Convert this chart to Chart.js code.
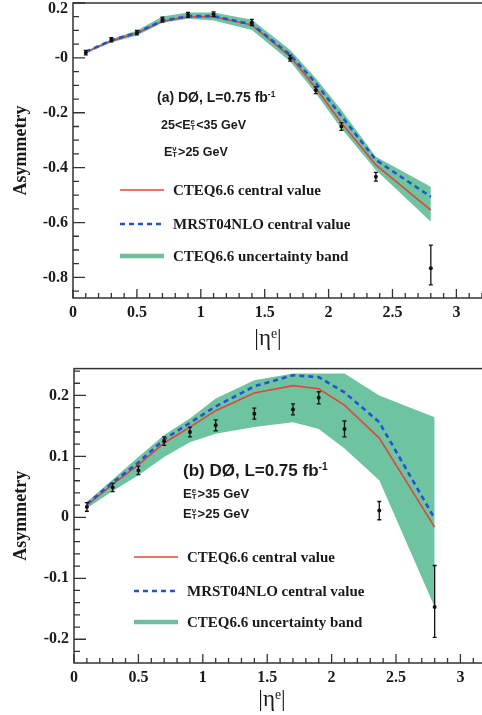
<!DOCTYPE html>
<html>
<head>
<meta charset="utf-8">
<script src="https://cdn.jsdelivr.net/npm/chart.js@4.4.0/dist/chart.umd.min.js"></script>
<style>
  html, body { margin: 0; padding: 0; background: #fff; width: 482px; height: 715px; overflow: hidden; position: relative; }
  canvas { position: absolute; left: 0; }
  #chartA { top: -10px; }
  #chartB { top: 358px; }
  .note { position: absolute; font-family: "Liberation Sans", Arial, sans-serif; font-weight: bold; color: #1a1a1a; white-space: nowrap; line-height: 1; }
  .note sup { font-size: 0.6em; position: relative; top: -0.55em; vertical-align: baseline; }
  .ss { display: inline-block; vertical-align: middle; font-size: 0.62em; line-height: 0.82; margin: 0 1px 0 0; position: relative; top: -0.05em; }
  .ss span { display: block; }
  .leg { position: absolute; display: flex; align-items: center; height: 16px; font-family: "Liberation Serif", "Times New Roman", serif; font-weight: bold; font-size: 15px; color: #1a1a1a; white-space: nowrap; }
  .leg svg { display: block; margin-right: 9px; }
  .xtitle { position: absolute; font-family: "Liberation Serif", "Times New Roman", serif; font-size: 23px; color: #1a1a1a; line-height: 1; transform: translate(-50%, -50%); white-space: nowrap; }
  .xtitle sup { font-size: 0.6em; position: relative; top: -0.5em; vertical-align: baseline; }
</style>
</head>
<body>
<canvas id="chartA" width="500" height="360"></canvas>
<canvas id="chartB" width="505" height="357"></canvas>

<!-- panel (a) texts -->
<div class="note" style="left:157px;top:90px;font-size:14px">(a) DØ, L=0.75 fb<sup>-1</sup></div>
<div class="note" style="left:161px;top:119px;font-size:12.5px">25&lt;E<span class="ss"><span>e</span><span>T</span></span>&lt;35 GeV</div>
<div class="note" style="left:164px;top:146px;font-size:12.5px">E<span class="ss"><span>ν</span><span>T</span></span>&gt;25 GeV</div>
<div class="leg" style="left:120px;top:182px"><svg width="44" height="16"><line x1="0" y1="8" x2="44" y2="8" stroke="#e0463c" stroke-width="1.6"/></svg>CTEQ6.6 central value</div>
<div class="leg" style="left:120px;top:216px"><svg width="44" height="16"><line x1="0" y1="8" x2="44" y2="8" stroke="#2452d0" stroke-width="2.4" stroke-dasharray="5 4"/></svg>MRST04NLO central value</div>
<div class="leg" style="left:120px;top:248px"><svg width="44" height="16"><line x1="0" y1="8" x2="44" y2="8" stroke="#6ebf9e" stroke-width="4.5"/></svg>CTEQ6.6 uncertainty band</div>
<div class="xtitle" style="left:268px;top:337px">|η<sup>e</sup>|</div>

<!-- panel (b) texts -->
<div class="note" style="left:183px;top:462px;font-size:17px">(b) DØ, L=0.75 fb<sup>-1</sup></div>
<div class="note" style="left:183px;top:487px;font-size:13px">E<span class="ss"><span>e</span><span>T</span></span>&gt;35 GeV</div>
<div class="note" style="left:183px;top:507px;font-size:13px">E<span class="ss"><span>ν</span><span>T</span></span>&gt;25 GeV</div>
<div class="leg" style="left:134px;top:549px"><svg width="44" height="16"><line x1="0" y1="8" x2="44" y2="8" stroke="#e0463c" stroke-width="1.6"/></svg>CTEQ6.6 central value</div>
<div class="leg" style="left:134px;top:583px"><svg width="44" height="16"><line x1="0" y1="8" x2="44" y2="8" stroke="#2452d0" stroke-width="2.4" stroke-dasharray="5 4"/></svg>MRST04NLO central value</div>
<div class="leg" style="left:134px;top:614px"><svg width="44" height="16"><line x1="0" y1="8" x2="44" y2="8" stroke="#6ebf9e" stroke-width="4.5"/></svg>CTEQ6.6 uncertainty band</div>
<div class="xtitle" style="left:272px;top:698px">|η<sup>e</sup>|</div>

<script>
// eta bins (data points and theory nodes)
const etaBins = [0.1, 0.3, 0.5, 0.7, 0.9, 1.1, 1.4, 1.7, 1.9, 2.1, 2.37, 2.8];

// panel (a): 25 < ET(e) < 35 GeV
const dataA   = [0.019, 0.066, 0.092, 0.139, 0.157, 0.159, 0.129, -0.001, -0.118, -0.25, -0.433, -0.767];
const errLoA  = [0.008, 0.008, 0.008, 0.009, 0.009, 0.009, 0.011, 0.011, 0.012, 0.014, 0.016, 0.06];
const errHiA  = [0.008, 0.008, 0.008, 0.009, 0.009, 0.009, 0.011, 0.011, 0.012, 0.014, 0.016, 0.085];
const cteqA   = [0.02, 0.062, 0.09, 0.133, 0.15, 0.15, 0.12, 0.005, -0.11, -0.236, -0.39, -0.555];
const mrstA   = [0.022, 0.064, 0.092, 0.135, 0.152, 0.152, 0.122, 0.011, -0.092, -0.212, -0.372, -0.506];
const bandHiA = [0.024, 0.068, 0.1, 0.151, 0.165, 0.165, 0.139, 0.029, -0.074, -0.19, -0.36, -0.47];
const bandLoA = [0.016, 0.056, 0.082, 0.128, 0.143, 0.136, 0.102, -0.013, -0.129, -0.257, -0.409, -0.597];

// panel (b): ET(e) > 35 GeV
const dataB   = [0.017, 0.049, 0.077, 0.125, 0.14, 0.151, 0.17, 0.177, 0.196, 0.145, 0.011, -0.147];
const errLoB  = [0.007, 0.007, 0.007, 0.007, 0.008, 0.009, 0.009, 0.009, 0.01, 0.013, 0.015, 0.05];
const errHiB  = [0.007, 0.007, 0.007, 0.007, 0.008, 0.009, 0.009, 0.009, 0.01, 0.013, 0.015, 0.068];
const cteqB   = [0.02, 0.054, 0.086, 0.122, 0.148, 0.175, 0.204, 0.216, 0.211, 0.184, 0.13, -0.016];
const mrstB   = [0.022, 0.057, 0.09, 0.128, 0.155, 0.182, 0.215, 0.233, 0.23, 0.205, 0.156, -0.002];
const bandHiB = [0.025, 0.062, 0.099, 0.135, 0.162, 0.195, 0.225, 0.236, 0.236, 0.236, 0.2, 0.164];
const bandLoB = [0.015, 0.043, 0.069, 0.099, 0.123, 0.137, 0.148, 0.156, 0.145, 0.113, 0.061, -0.147];

// tick labels (the top label of panel a sits just inside the frame)
const xTicks = [0, 0.5, 1, 1.5, 2, 2.5, 3];
const xTickLabels = ["0", "0.5", "1", "1.5", "2", "2.5", "3"];
const yTicksA = [0.2, 0, -0.2, -0.4, -0.6, -0.8];
const yTickLabelsA = [["", "0.2"], "-0", "-0.2", "-0.4", "-0.6", "-0.8"];
const yTicksB = [0.2, 0.1, 0, -0.1, -0.2];
const yTickLabelsB = ["0.2", "0.1", "0", "-0.1", "-0.2"];

const tickFont = { family: "Liberation Serif", weight: "bold", size: 16, lineHeight: 0.7 };

function pts(ys) {
  return ys.map((v, i) => ({ x: etaBins[i], y: v }));
}

// frame, inward ticks and error bars, all through the chart scales
function axisDecor(cfg) {
  return {
    id: "axisDecor",
    afterDatasetsDraw(chart) {
      const { ctx, chartArea: a, scales: { x, y } } = chart;
      ctx.save();

      ctx.strokeStyle = "#111";
      ctx.lineWidth = 1.3;
      cfg.pts.forEach((v, i) => {
        const px = x.getPixelForValue(etaBins[i]);
        const top = y.getPixelForValue(v + cfg.hi[i]);
        const bot = y.getPixelForValue(v - cfg.lo[i]);
        ctx.beginPath();
        ctx.moveTo(px, top); ctx.lineTo(px, bot);
        ctx.moveTo(px - 2, top); ctx.lineTo(px + 2, top);
        ctx.moveTo(px - 2, bot); ctx.lineTo(px + 2, bot);
        ctx.stroke();
      });

      ctx.strokeStyle = "#333";
      ctx.lineWidth = 1.5;
      ctx.strokeRect(a.left, a.top, a.right - a.left, a.bottom - a.top);

      ctx.lineWidth = 1.3;
      ctx.beginPath();
      const nx = Math.floor(x.max / cfg.xMinor + 1e-6);
      for (let i = 0; i <= nx; i++) {
        const px = x.getPixelForValue(i * cfg.xMinor);
        const len = i % cfg.xEvery === 0 ? 9 : 5;
        ctx.moveTo(px, a.bottom); ctx.lineTo(px, a.bottom - len);
      }
      const k0 = Math.ceil(y.min / cfg.yMinor - 1e-6);
      const k1 = Math.floor(y.max / cfg.yMinor + 1e-6);
      for (let k = k0; k <= k1; k++) {
        const py = y.getPixelForValue(k * cfg.yMinor);
        const len = k % cfg.yEvery === 0 ? 12 : 6;
        ctx.moveTo(a.left, py); ctx.lineTo(a.left + len, py);
      }
      ctx.stroke();
      ctx.restore();
    }
  };
}

function makeChart(el, o) {
  return new Chart(el, {
    type: "line",
    data: {
      datasets: [
        { label: "bandLo", data: pts(o.bandLo), borderWidth: 0, pointRadius: 0, fill: false, order: 4 },
        { label: "CTEQ6.6 uncertainty band", data: pts(o.bandHi), borderWidth: 0, pointRadius: 0,
          fill: "-1", backgroundColor: "#6ec3a0", order: 3 },
        { label: "CTEQ6.6 central value", data: pts(o.cteq), borderColor: "#e0463c", borderWidth: 1.6,
          pointRadius: 0, fill: false, tension: 0, order: 2 },
        { label: "MRST04NLO central value", data: pts(o.mrst), borderColor: "#2452d0", borderWidth: 2.6,
          borderDash: [5, 4], pointRadius: 0, fill: false, tension: 0, order: 1 },
        { label: "DØ data", data: pts(o.data), showLine: false, pointRadius: 2,
          pointBackgroundColor: "#111", pointBorderWidth: 0, order: 0 }
      ]
    },
    options: {
      responsive: false,
      animation: false,
      events: [],
      layout: { padding: { top: o.padTop, right: 0, left: 0, bottom: 0 } },
      plugins: { legend: { display: false }, tooltip: { enabled: false } },
      scales: {
        x: {
          type: "linear",
          min: 0,
          max: o.xMax,
          grid: { display: false, drawTicks: false },
          border: { display: false },
          afterBuildTicks: (s) => { s.ticks = xTicks.map((v) => ({ value: v })); },
          afterFit: (s) => { s.height = 52; },
          ticks: {
            autoSkip: false,
            maxRotation: 0,
            padding: 5,
            color: "#1a1a1a",
            font: { family: "Liberation Serif", weight: "bold", size: 16 },
            callback: (v, i) => xTickLabels[i]
          }
        },
        y: {
          type: "linear",
          min: o.yMin,
          max: o.yMax,
          grid: { display: false, drawTicks: false },
          border: { display: false },
          afterBuildTicks: (s) => { s.ticks = o.yTicks.map((v) => ({ value: v })); },
          afterFit: (s) => { s.width = o.yWidth; },
          title: {
            display: true,
            text: "Asymmetry",
            color: "#1a1a1a",
            font: { family: "Liberation Serif", weight: "bold", size: 18 },
            padding: { top: 11, bottom: 0 }
          },
          ticks: {
            autoSkip: false,
            padding: 5,
            color: "#1a1a1a",
            font: tickFont,
            callback: (v, i) => o.yLabels[i]
          }
        }
      }
    },
    plugins: [axisDecor({ pts: o.data, lo: o.errLo, hi: o.errHi,
      xMinor: 0.1, xEvery: 5, yMinor: o.yMinor, yEvery: o.yEvery })]
  });
}

makeChart(document.getElementById("chartA"), {
  data: dataA, errLo: errLoA, errHi: errHiA, cteq: cteqA, mrst: mrstA, bandHi: bandHiA, bandLo: bandLoA,
  yTicks: yTicksA, yLabels: yTickLabelsA, yMin: -0.875, yMax: 0.2, xMax: 3.31,
  padTop: 13, yWidth: 73, yMinor: 0.05, yEvery: 4
});

makeChart(document.getElementById("chartB"), {
  data: dataB, errLo: errLoB, errHi: errHiB, cteq: cteqB, mrst: mrstB, bandHi: bandHiB, bandLo: bandLoB,
  yTicks: yTicksB, yLabels: yTickLabelsB, yMin: -0.239, yMax: 0.244, xMax: 3.315,
  padTop: 10, yWidth: 74, yMinor: 0.02, yEvery: 5
});
</script>
</body>
</html>
